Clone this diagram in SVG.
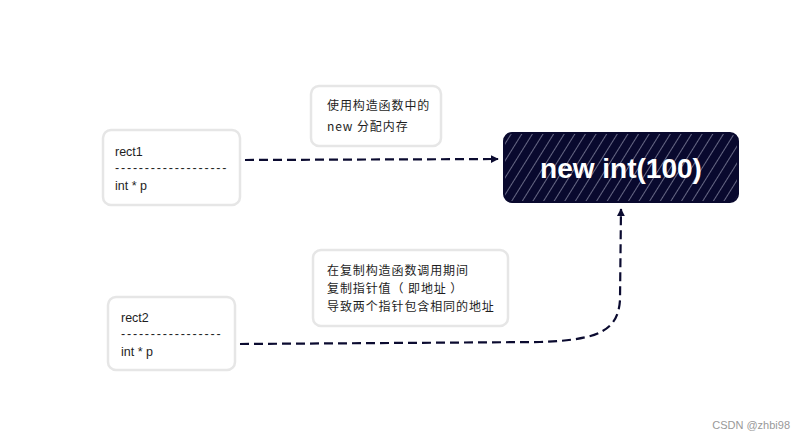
<svg xmlns="http://www.w3.org/2000/svg" width="804" height="440" viewBox="0 0 804 440">
<style>
.box{fill:#fff;stroke:#e6e6e6;stroke-width:2.5}
.t{font-family:"Liberation Sans","Noto Sans CJK SC",sans-serif;font-size:12.5px;fill:#1e1e1e}
.d{letter-spacing:1.8px}
.c{font-family:"Noto Sans CJK SC",sans-serif;font-size:12px;letter-spacing:0.9px;fill:#1e1e1e}
.conn{fill:none;stroke:#0b0b30;stroke-width:2.2;stroke-dasharray:9 5}
</style>
<defs>
<marker id="ah" viewBox="0 0 10 10" refX="9" refY="5" markerWidth="8" markerHeight="8" orient="auto" markerUnits="userSpaceOnUse">
<path d="M0,0 L10,5 L0,10 z" fill="#0b0b30"/>
</marker>
<pattern id="hatch" width="9" height="9" patternUnits="userSpaceOnUse" patternTransform="rotate(32)">
<rect width="9" height="9" fill="#09092e"/>
<line x1="0" y1="0" x2="0" y2="9" stroke="#d8d9ee" stroke-width="0.9"/>
</pattern>
</defs>
<rect width="804" height="440" fill="#fff"/>
<g id="rect1">
<rect class="box" x="103" y="130" width="137" height="75" rx="8"/>
<text class="t" x="115" y="156">rect1</text>
<text class="t d" x="115" y="172">-------------------</text>
<text class="t" x="115" y="190">int * p</text>
</g>
<g id="note1">
<rect class="box" x="311" y="86" width="130" height="60" rx="8"/>
<text class="c" x="327" y="110">使用构造函数中的</text>
<text class="c" x="327" y="131">new 分配内存</text>
</g>
<g id="heap">
<rect x="504" y="133" width="234" height="69" rx="8" fill="url(#hatch)" stroke="#09092e" stroke-width="2"/>
<text x="621" y="178" text-anchor="middle" font-family="'Liberation Sans',sans-serif" font-size="28" font-weight="bold" fill="#fff">new int(100)</text>
</g>
<g id="note2">
<rect class="box" x="313" y="250" width="195" height="76" rx="8"/>
<text class="c" x="327" y="275">在复制构造函数调用期间</text>
<text class="c" x="327" y="293">复制指针值（ 即地址 ）</text>
<text class="c" x="327" y="311">导致两个指针包含相同的地址</text>
</g>
<g id="rect2">
<rect class="box" x="108" y="297" width="127" height="73" rx="8"/>
<text class="t" x="121" y="322">rect2</text>
<text class="t d" x="121" y="338">-----------------</text>
<text class="t" x="121" y="356">int * p</text>
</g>
<g id="connectors">
<path class="conn" d="M240,344 L540,342 C600,340 618,330 620,300 L621,209" marker-end="url(#ah)"/>
<path class="conn" d="M245,160 L498,159" marker-end="url(#ah)"/>
</g>
<text x="790" y="429" text-anchor="end" font-family="'Liberation Sans',sans-serif" font-size="11" fill="#999">CSDN @zhbi98</text>
</svg>
